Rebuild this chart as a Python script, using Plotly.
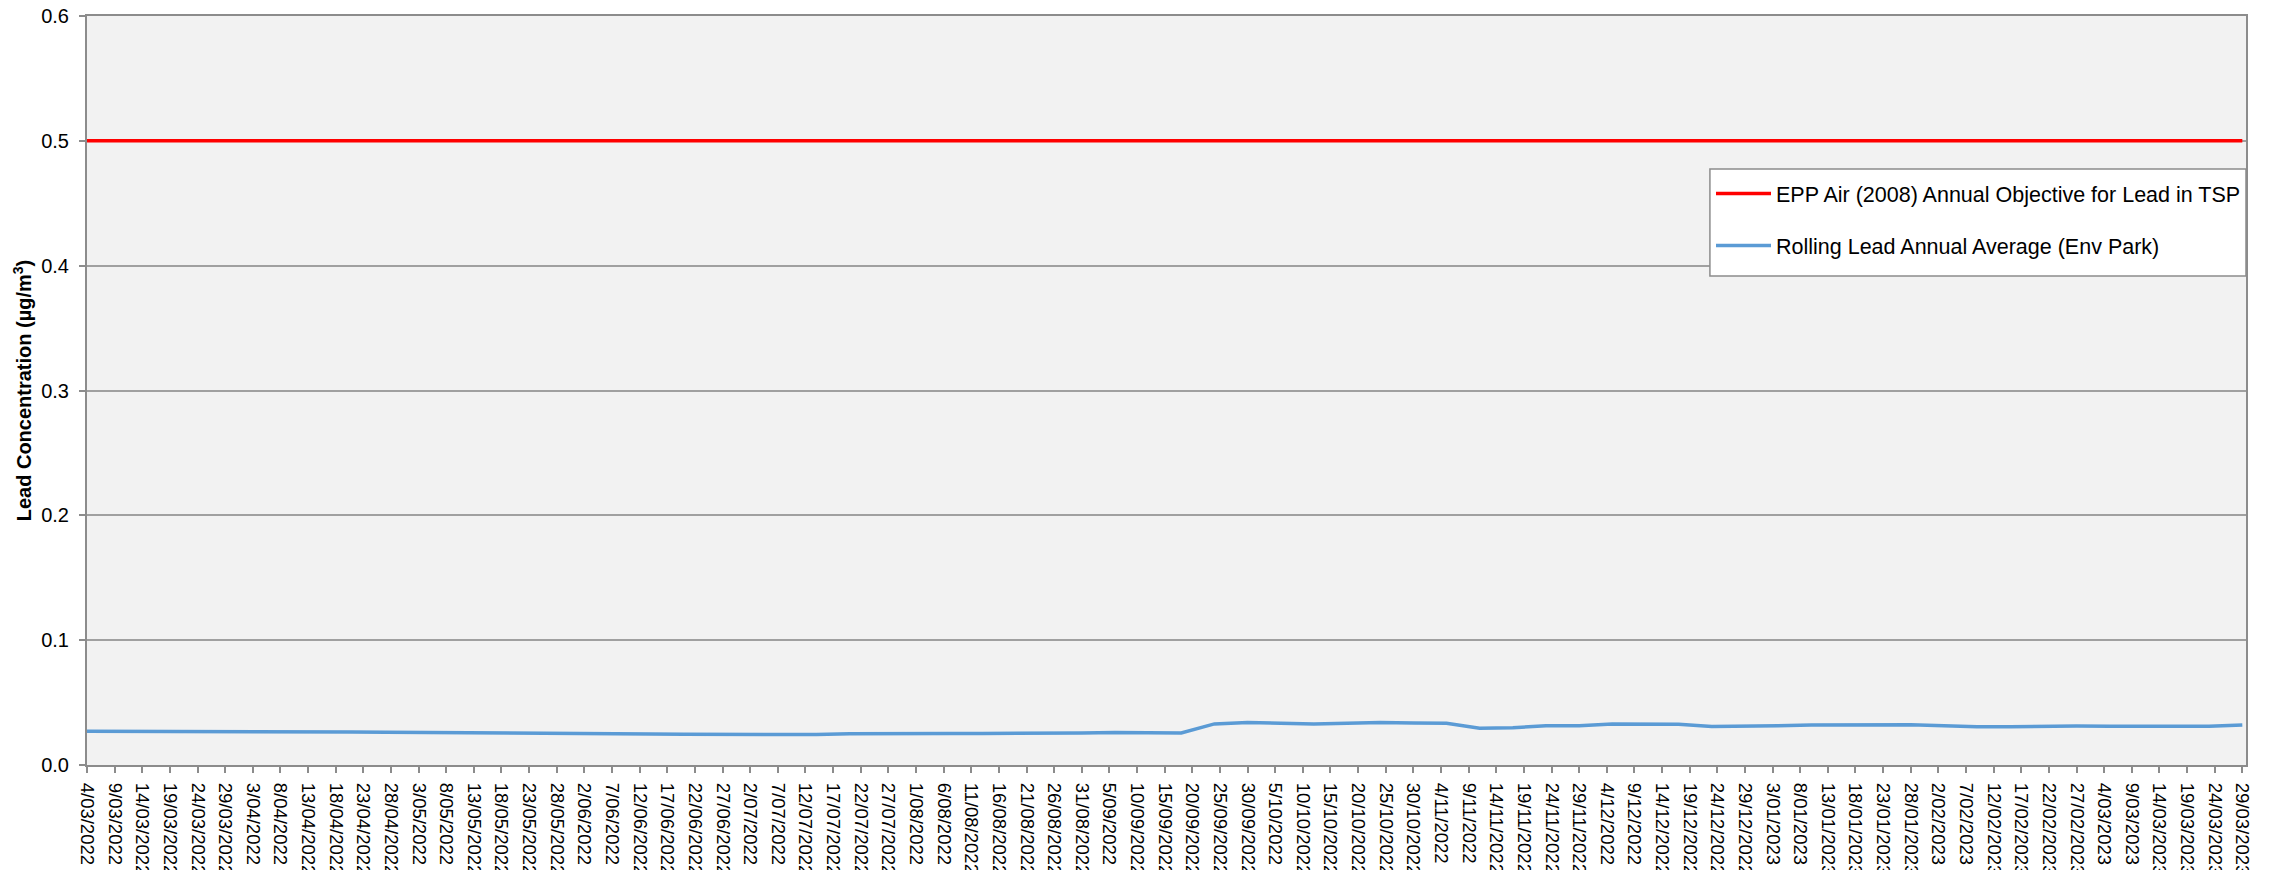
import pandas as pd
import plotly.graph_objects as go

# ---- data ----
start_date = "2022-03-04"
end_date = "2023-03-29"
sample_step_days = 6
tick_step_days = 5

rolling_avg = [
    0.0270, 0.0270, 0.0268, 0.0268, 0.0271, 0.0272, 0.0270, 0.0267, 0.0265, 0.0263,
    0.0262, 0.0260, 0.0259, 0.0258, 0.0257, 0.0256, 0.0251, 0.0249, 0.0247, 0.0246,
    0.0245, 0.0244, 0.0244, 0.0250, 0.0253, 0.0253, 0.0253, 0.0253, 0.0253, 0.0253,
    0.0257, 0.0261, 0.0258, 0.0257, 0.0329, 0.0340, 0.0335, 0.0329, 0.0335, 0.0340,
    0.0337, 0.0335, 0.0295, 0.0298, 0.0315, 0.0315, 0.0329, 0.0328, 0.0326, 0.0308,
    0.0308, 0.0315, 0.0320, 0.0323, 0.0323, 0.0323, 0.0315, 0.0306, 0.0306, 0.0310,
    0.0312, 0.0310, 0.0310, 0.0310, 0.0310, 0.0320,
]
objective_value = 0.5

series_names = [
    "EPP Air (2008) Annual Objective for Lead in TSP",
    "Rolling Lead Annual Average (Env Park)",
]
y_title = "Lead Concentration (µg/m<sup>3</sup>)"

dates = pd.date_range(start_date, periods=len(rolling_avg), freq=f"{sample_step_days}D")
objective = [objective_value] * len(dates)

FONT = "Liberation Sans, Arial, sans-serif"
GRAY = "#8c8c8c"

fig = go.Figure()
fig.add_trace(go.Scatter(
    x=dates, y=objective, mode="lines", name=series_names[0],
    line=dict(color="#ff0000", width=3.5), legendgroup="a",
))
fig.add_trace(go.Scatter(
    x=dates, y=rolling_avg, mode="lines", name=series_names[1],
    line=dict(color="#5b9bd5", width=3.5), legendgroup="b",
))

# legend frame (white box with gray border, drawn over the gridlines)
fig.add_shape(
    type="rect", xref="paper", yref="paper",
    x0=0.7517, x1=1.0, y0=0.6529, y1=0.7957,
    fillcolor="white", line=dict(color=GRAY, width=1.5), layer="above",
)

fig.update_layout(
    width=2272, height=870,
    margin=dict(l=87, r=26, t=16, b=105),
    paper_bgcolor="white",
    plot_bgcolor="#f2f2f2",
    font=dict(family=FONT, color="black", size=20),
    showlegend=True,
    legend=dict(
        x=1, xanchor="right", y=0.7904, yanchor="top",
        bgcolor="rgba(0,0,0,0)", borderwidth=0,
        font=dict(family=FONT, size=21.5, color="black"),
        tracegroupgap=21, traceorder="grouped",
        itemwidth=55,
    ),
    xaxis=dict(
        type="date", automargin=False,
        range=[pd.Timestamp(start_date), pd.Timestamp(end_date) + pd.Timedelta(hours=16)],
        tick0=start_date, dtick=tick_step_days * 86400000,
        tickformat="%-d/%m/%Y", tickangle=90,
        tickfont=dict(family=FONT, size=18.5, color="black"),
        ticks="outside", ticklen=6, tickcolor=GRAY, tickwidth=1.5,
        ticklabelstandoff=6, ticklabeloverflow="allow",
        showgrid=False, showline=True, linecolor=GRAY, linewidth=2, mirror=True,
        zeroline=False,
    ),
    yaxis=dict(
        automargin=False,
        range=[0, 0.6], dtick=0.1, tickformat=".1f",
        tickfont=dict(family=FONT, size=20, color="black"),
        ticks="outside", ticklen=6, tickcolor=GRAY, tickwidth=1.5,
        ticklabelstandoff=6, ticklabeloverflow="allow",
        showgrid=True, gridcolor="#a0a0a0", gridwidth=1.5,
        showline=True, linecolor=GRAY, linewidth=2, mirror=True,
        zeroline=False,
        title=dict(text=f"<b>{y_title}</b>", font=dict(family=FONT, size=20, color="black"), standoff=4),
    ),
)

fig.write_html(
    "out.html",
    config={"displayModeBar": False},
    post_script="document.body.style.margin='0';document.body.style.overflow='hidden';",
)
